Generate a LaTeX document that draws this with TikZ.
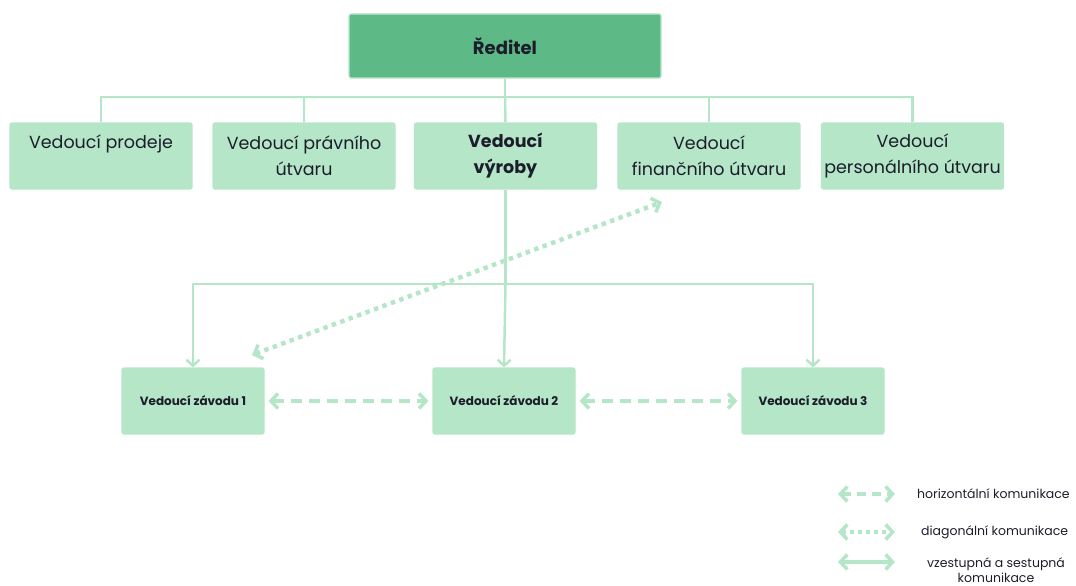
\documentclass[tikz,border=0pt]{standalone}
\usepackage{fontspec}
\setmainfont{Poppins}
\usetikzlibrary{arrows.meta}
\definecolor{mint}{HTML}{B5E6C8}
\definecolor{leaf}{HTML}{5DB985}
\definecolor{ink}{HTML}{1C1D2B}
\begin{document}
\begin{tikzpicture}[x=1pt,y=-1pt,
  box/.style={draw=mint,line width=1.2pt,fill=mint,rounded corners=2pt,text=ink,inner sep=0pt,align=center},
  upper/.style={box,minimum width=182pt,minimum height=66pt,font=\fontsize{17.5}{26}\selectfont},
  plant/.style={box,minimum width=142pt,minimum height=66pt,font=\bfseries\fontsize{12}{14}\selectfont},
  link/.style={draw=mint,line width=2.5pt},
  solidarr/.style={link,-{Straight Barb[length=6pt,width=13pt,line width=2.5pt]}},
  dasharr/.style={link,line width=4pt,dash pattern=on 11pt off 7pt,{Straight Barb[length=7pt,width=15pt,line width=3.5pt]}-{Straight Barb[length=7pt,width=15pt,line width=3.5pt]}},
  dotarr/.style={link,line width=4.5pt,dash pattern=on 4.5pt off 4.5pt,{Straight Barb[length=7pt,width=15pt,line width=3.5pt]}-{Straight Barb[length=7pt,width=15pt,line width=3.5pt]}},
  fullarr/.style={link,line width=4pt,{Straight Barb[length=7pt,width=15pt,line width=3.5pt]}-{Straight Barb[length=7pt,width=15pt,line width=3.5pt]}},
  legend/.style={text=ink,font=\fontsize{12.5}{15}\selectfont,align=center,inner sep=0pt}]
\useasboundingbox (0,0) rectangle (1076,586);

% top of the hierarchy
\node[box,fill=leaf,minimum width=312pt,minimum height=64pt,font=\bfseries\fontsize{18}{20}\selectfont] (dir) at (505,46) {Ředitel};

% department heads
\node[upper] (sales) at (101,156) {\raisebox{-8pt}{Vedoucí prodeje}\\[-2pt]\strut};
\node[upper] (legal) at (304,156) {Vedoucí právního\\útvaru};
\node[upper,font=\bfseries\fontsize{17.5}{26}\selectfont] (prod) at (505.5,156) {Vedoucí\\výroby};
\node[upper] (fin) at (709,156) {Vedoucí\\finančního útvaru};
\node[upper] (hr) at (912.5,156) {Vedoucí\\personálního útvaru};

% plant managers
\node[plant] (p1) at (193,401) {Vedoucí závodu 1};
\node[plant] (p2) at (504,401) {Vedoucí závodu 2};
\node[plant] (p3) at (813,401) {Vedoucí závodu 3};

% upper tree
\coordinate (bus) at (505,97);
\draw[link] (dir.south) -- (bus);
\draw[link] (sales.north) |- (bus) -| (hr.north);
\draw[link] (legal.north) -- (legal.north |- bus);
\draw[link] (prod.north) -- (bus);
\draw[link] (fin.north) -- (fin.north |- bus);

% production tree
\coordinate (pbus) at (505.5,284);
\draw[link] (prod.south) -- (pbus);
\draw[solidarr] (pbus) -- (p2.north);
\draw[solidarr] (pbus) -| (p1.north);
\draw[solidarr] (pbus) -| (p3.north);

% horizontal and diagonal communication
\draw[dasharr] ([xshift=4pt]p1.east) -- ([xshift=-4pt]p2.west);
\draw[dasharr] ([xshift=4pt]p2.east) -- ([xshift=-4pt]p3.west);
\coordinate (dA) at (252,355);
\coordinate (dB) at (662,202);
\draw[dotarr] (dA) -- (dB);

% legend
\coordinate (l1a) at (838,494); \coordinate (l1b) at (895,494);
\coordinate (l2a) at (838,532); \coordinate (l2b) at (895,532);
\coordinate (l3a) at (838,562); \coordinate (l3b) at (895,562);
\draw[dasharr,dash pattern=on 9pt off 6pt] (l1a) -- (l1b);
\draw[dotarr,line width=4pt,dash pattern=on 4pt off 4pt] (l2a) -- (l2b);
\draw[fullarr] (l3a) -- (l3b);
\node[legend,anchor=west] (t1) at (917,494) {horizontální komunikace};
\node[legend,anchor=west] (t2) at (921,532) {diagonální komunikace};
\node[legend] (t3) at (996,570) {vzestupná a sestupná\\komunikace};
\end{tikzpicture}
\end{document}
